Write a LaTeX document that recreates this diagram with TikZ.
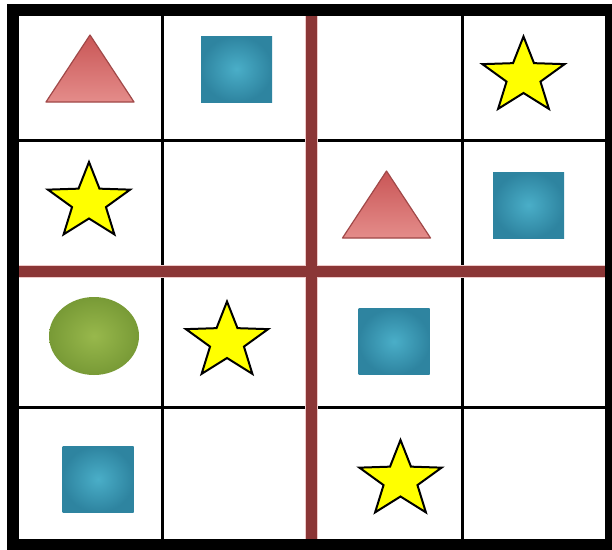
\documentclass[tikz,border=0pt]{standalone}
\usetikzlibrary{calc}
\definecolor{GridRed}{HTML}{8B3636}
\definecolor{GridHalo}{HTML}{EFCACA}
\definecolor{TriTop}{HTML}{C95656}
\definecolor{TriMid}{HTML}{C73E3E}
\definecolor{TriLow}{HTML}{E48C8A}
\definecolor{TriEdge}{HTML}{A04848}
\definecolor{SqInner}{HTML}{4AAEC8}
\definecolor{SqOuter}{HTML}{2E84A0}
\definecolor{BallInner}{HTML}{98B84C}
\definecolor{BallOuter}{HTML}{789A36}
\definecolor{StarFill}{HTML}{FFFF00}
\tikzset{
  thinrule/.style={line width=3pt, black},
  redrule/.style={line width=11pt, GridRed},
  halorule/.style={line width=13pt, GridHalo},
  frame/.style={line width=12pt, black},
  pics/tri/.style={code={
    \path[
      draw=TriEdge,
      line width=1.2pt,
      top color=TriTop,
      middle color=TriMid,
      bottom color=TriLow,
      line join=round
    ] (0,-67) -- (44,0) -- (-44,0) -- cycle;
  }},
  pics/sq/.style={code={
    \path[
      inner color=SqInner,
      outer color=SqOuter
    ] (-35.5,-33) rectangle (35.5,33);
  }},
  pics/ball/.style={code={
    \path[
      inner color=BallInner,
      outer color=BallOuter
    ] (0,0) ellipse [x radius=45, y radius=39];
  }},
  pics/star/.style={code={
    \draw[
      fill=StarFill,
      line width=2pt,
      line join=miter,
      xscale=1.08
    ] (270:40) \foreach \k in {1,...,9}{
        -- ({270+36*\k}:{ifthenelse(isodd(\k),16.5,40)})
      } -- cycle;
  }}
}
\begin{document}
\begin{tikzpicture}[x=1pt,y=-1pt]
  \useasboundingbox[fill=white] (0,0) rectangle (612,549);

  % grid
  \coordinate (tl) at (12.5,9.5);
  \coordinate (br) at (611,545);
  \foreach \gx in {162.5,462} {
    \draw[thinrule] (\gx,9.5) -- (\gx,545);
  }
  \foreach \gy in {140.5,407} {
    \draw[thinrule] (12.5,\gy) -- (611,\gy);
  }
  \draw[halorule] (311,9.5) -- (311,545);
  \draw[halorule] (12.5,271.5) -- (611,271.5);
  \draw[redrule] (311,9.5) -- (311,545);
  \draw[redrule] (12.5,271.5) -- (611,271.5);
  \draw[frame] (tl) rectangle (br);

  % row 1
  \pic (triA) at (90,102) {tri};
  \pic (sqA) at (236.5,69) {sq};
  \pic (starA) at (523.5,76.5) {star};
  % row 2
  \pic (starB) at (89,202) {star};
  \pic (triB) at (386.5,238) {tri};
  \pic (sqB) at (528.5,205) {sq};
  % row 3
  \pic (ballC) at (94,336) {ball};
  \pic (starC) at (227,341.5) {star};
  \pic (sqC) at (394,341.5) {sq};
  % row 4
  \pic (sqD) at (98,479) {sq};
  \pic (starD) at (400.5,480) {star};
\end{tikzpicture}
\end{document}
